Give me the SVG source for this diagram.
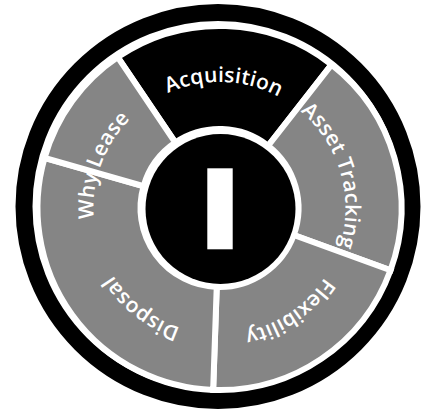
<svg xmlns="http://www.w3.org/2000/svg" width="430" height="417" viewBox="0 0 430 417">
  <style>
    .seg { fill: #858585; stroke: #ffffff; stroke-width: 6; stroke-linejoin: miter; }
    .seg.dark { fill: #000000; }
    .lbl { font-family: "Open Sans", "Noto Sans", "DejaVu Sans", sans-serif; font-size: 21px; font-weight: 600; fill: #ffffff; letter-spacing: 0.2px; }
  </style>
  <defs>
    <path id="arcAcq" d="M94.44,192.64 A126,126 0 0 1 345.33,201.41"/>
    <path id="arcAsset" d="M195.46,84.31 A126,126 0 0 1 264.65,325.63"/>
    <path id="arcFlex" d="M329.70,146.91 A126,126 0 0 1 121.58,287.29"/>
    <path id="arcDisp" d="M311.65,293.93 A126,126 0 0 1 113.83,139.38"/>
    <path id="arcWhy" d="M166.25,322.20 A126,126 0 0 1 252.11,86.29"/>
  </defs>
  <rect x="0" y="0" width="430" height="417" fill="#ffffff"/>
  <g id="outer-ring">
    <circle cx="218" cy="206.5" r="194" fill="#ffffff" stroke="#000000" stroke-width="17"/>
  </g>
  <g id="acquisition">
    <path class="seg dark" d="M117.73,57.12 A182,182 0 0 1 331.56,64.58 L268.14,145.75 A79,79 0 0 0 175.32,142.51 Z"/>
    <text class="lbl"><textPath href="#arcAcq" startOffset="50%" text-anchor="middle">Acquisition</textPath></text>
  </g>
  <g id="asset-tracking">
    <path class="seg" d="M331.56,64.58 A182,182 0 0 1 390.53,270.24 L293.74,235.02 A79,79 0 0 0 268.14,145.75 Z"/>
    <text class="lbl"><textPath href="#arcAsset" startOffset="50%" text-anchor="middle">Asset Tracking</textPath></text>
  </g>
  <g id="flexibility">
    <path class="seg" d="M390.53,270.24 A182,182 0 0 1 213.15,389.89 L216.74,286.95 A79,79 0 0 0 293.74,235.02 Z"/>
    <text class="lbl"><textPath href="#arcFlex" startOffset="50%" text-anchor="middle">Flexibility</textPath></text>
  </g>
  <g id="disposal">
    <path class="seg" d="M213.15,389.89 A182,182 0 0 1 44.54,157.84 L143.56,186.23 A79,79 0 0 0 216.74,286.95 Z"/>
    <text class="lbl"><textPath href="#arcDisp" startOffset="50%" text-anchor="middle">Disposal</textPath></text>
  </g>
  <g id="why-lease">
    <path class="seg" d="M44.54,157.84 A182,182 0 0 1 117.73,57.12 L175.32,142.51 A79,79 0 0 0 143.56,186.23 Z"/>
    <text class="lbl"><textPath href="#arcWhy" startOffset="50%" text-anchor="middle">Why Lease</textPath></text>
  </g>
  <g id="center">
    <circle cx="220.5" cy="209" r="75" fill="#000000"/>
    <rect x="207.3" y="168.3" width="25.4" height="81" fill="#ffffff"/>
  </g>
</svg>
